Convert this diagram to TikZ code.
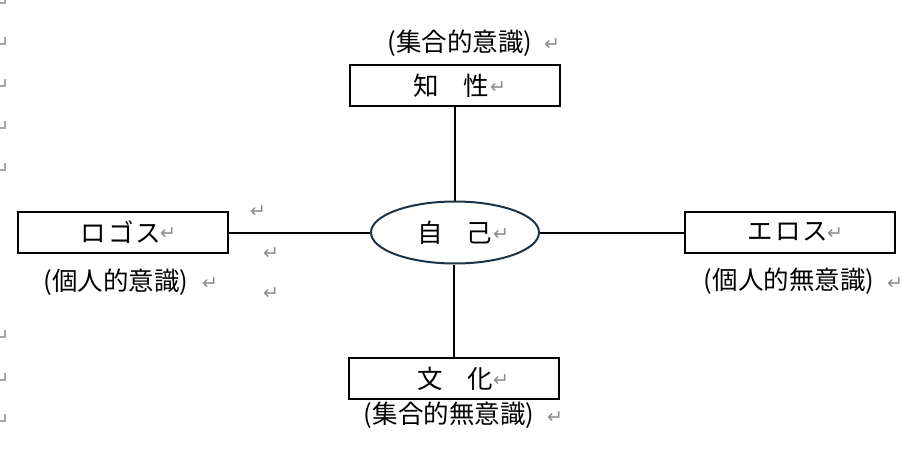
\documentclass[tikz,border=0pt]{standalone}
\usepackage{fontspec}
\setmainfont{Noto Sans CJK JP}
\newfontfamily\dejavu{DejaVu Sans}
\usetikzlibrary{shapes.geometric}
\definecolor{retgray}{HTML}{8C8C8C}
\definecolor{markgray}{HTML}{A6A6A6}
\definecolor{ellcol}{HTML}{1C3447}
\tikzset{
  box/.style={draw=black, line width=2pt, minimum width=210pt, minimum height=41pt, inner sep=0pt},
  ell/.style={draw=ellcol, line width=2pt, ellipse, minimum width=168pt, minimum height=62pt, inner sep=0pt},
  jtxt/.style={font=\fontsize{25.5}{25.5}\selectfont, inner sep=0pt, text=black},
  ret/.style={font=\dejavu\fontsize{19}{19}\selectfont, text=retgray, inner sep=0pt},
  conn/.style={draw=black, line width=2pt},
  cmark/.style={draw=markgray, line width=1.4pt}
}
\begin{document}
\begin{tikzpicture}[x=1pt, y=-1pt]
\useasboundingbox (0,0) rectangle (912,457);
% corner marks on the left margin
\foreach \yy in {3,44,86,128,170,337,380,421}{
  \draw[cmark] (0,\yy) -- (5,\yy) -- (5,\yy-7);
}
% boxes and ellipse
\node[box] (chi) at (454.5,86) {};
\node[box] (logos) at (122.5,232.5) {};
\node[box] (eros) at (790,232.5) {};
\node[box] (bunka) at (454,378.5) {};
\node[ell] (jiko) at (455,232.5) {};
% connectors
\draw[conn] (chi.south) -- (chi.south |- jiko.north);
\draw[conn] (bunka.north |- jiko.south) -- (bunka.north);
\draw[conn] (logos.east) -- (jiko.west);
\draw[conn] (jiko.east) -- (eros.west);
% texts inside
\node[jtxt] (t1a) at (426,86) {知};
\node[jtxt] (t1b) at (476,86) {性};
\node[ret] (r1) at (498,88) {↵};
\node[jtxt] (t2a) at (430,233) {自};
\node[jtxt] (t2b) at (479,233) {己};
\node[ret] (r2) at (501,235) {↵};
\node[jtxt] (t3) at (121,232) {ロ\hspace{2pt}ゴ\hspace{2pt}ス};
\node[ret] (r3) at (168,234) {↵};
\node[jtxt] (t4) at (788,232) {エ\hspace{2pt}ロ\hspace{2pt}ス};
\node[ret] (r4) at (835,234) {↵};
\node[jtxt] (t5a) at (430,379) {文};
\node[jtxt] (t5b) at (480,379) {化};
\node[ret] (r5) at (501,381) {↵};
% labels
\node[jtxt] (l1) at (460,43) {(集合的意識)};
\node[ret] (rl1) at (552,45) {↵};
\node[jtxt] (l2) at (116,282) {(個人的意識)};
\node[ret] (rl2) at (210,284) {↵};
\node[jtxt] (l3) at (789,281) {(個人的無意識)};
\node[ret] (rl3) at (895,284) {↵};
\node[jtxt] (l4) at (449,415) {(集合的無意識)};
\node[ret] (rl4) at (555,418) {↵};
% stray paragraph marks
\node[ret] (s1) at (258,212) {↵};
\node[ret] (s2) at (271,254) {↵};
\node[ret] (s3) at (271,294) {↵};
\end{tikzpicture}
\end{document}
